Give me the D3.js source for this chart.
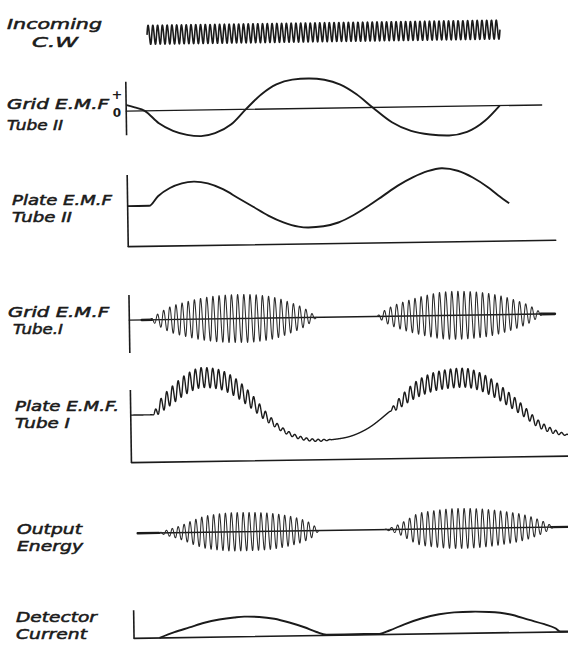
<!DOCTYPE html>
<html><head><meta charset="utf-8">
<script src="https://cdn.jsdelivr.net/npm/d3@7"></script>
<style>html,body{margin:0;padding:0;background:#fff;} svg{display:block;}</style>
</head><body>
<svg id="chart" width="568" height="647"></svg>
<script>
// ================= DATA (time t in ms-like units, values in panel units) =================
const panelLabels = [["Incoming","C.W"],["Grid E.M.F","Tube II"],["Plate E.M.F","Tube II"],
                     ["Grid E.M.F","Tube.I"],["Plate E.M.F.","Tube I"],["Output","Energy"],["Detector","Current"]];
const gridIITicks = ["+","0"];

// Incoming continuous wave
const cwTime = [23.4, 376.4];
const cwAmplitude = 9.5;
const cwCycles = 74;

// Grid E.M.F. Tube II (relative, -1..1)
const gridIITime  = [2, 10, 20, 34, 48, 62, 76, 90, 106, 121, 137, 152, 168, 184, 200, 216, 232, 248, 267, 286, 305, 324, 342, 360, 375];
const gridIIValue = [0.2, 0.12, 0, -0.42, -0.68, -0.82, -0.87, -0.78, -0.5, 0, 0.5, 0.82, 0.97, 1.0, 0.95, 0.78, 0.45, 0, -0.5, -0.8, -0.93, -0.97, -0.86, -0.5, 0];

// Plate E.M.F. Tube II
const plateIITime  = [1, 23, 32, 44, 56, 68, 82, 97, 112, 127, 142, 157, 172, 182, 197, 212, 227, 242, 257, 272, 287, 302, 316, 332, 347, 362, 372, 383];
const plateIIValue = [40.5, 40.5, 50, 58, 62.5, 64, 62, 56, 47, 38, 29, 22, 17.5, 16.5, 17.5, 21, 28, 37, 47, 57, 65, 71, 73.7, 71, 64, 54, 46, 37.7];

// Grid E.M.F. Tube I : envelopes of the oscillation
const gridIEnv1Time = [22, 32, 42, 57, 72, 87, 102, 117, 132, 147, 162, 177, 189];
const gridIEnv1Amp  = [0, 7, 12.5, 17, 20.5, 22.7, 23.8, 24, 23, 20.5, 15.5, 9, 0];
const gridIEnv2Time = [249, 257, 267, 282, 297, 312, 327, 342, 357, 372, 387, 402, 415];
const gridIEnv2Amp  = [0, 6, 11, 16, 20, 23, 24, 23.5, 22, 19, 14.5, 8.5, 0];
const gridICycles = [27, 27];

// Plate E.M.F. Tube I : slow curve + ripple amplitude
const plateITime  = [1.5, 23, 32, 44, 58, 74, 90, 106, 122, 138, 154, 170, 190, 214, 238, 262, 286, 310, 334, 358, 378, 394, 408, 424, 439];
const plateIValue = [47.5, 47.5, 57, 67.5, 78, 84, 82, 74, 60, 43, 30, 22.5, 19.5, 21.5, 30.5, 48.5, 68, 77.5, 80, 72.5, 59, 46, 33.5, 25, 21];
const plateIRippleTime = [1.5, 23, 27, 40, 70, 100, 118, 132, 148, 170, 195, 205, 260, 264, 280, 300, 330, 360, 385, 405, 425, 439];
const plateIRippleAmp  = [0, 0, 4, 8.5, 10, 9.5, 8, 5.5, 2.5, 1.5, 0.8, 0, 0, 2.5, 7, 9, 9.5, 8.5, 6.5, 4, 2, 0.5];
const plateIPeriod = 5.8;

// Output energy envelopes
const outEnv1Time = [28, 37, 50, 62, 72, 87, 104, 122, 144, 162, 172, 182, 188];
const outEnv1Amp  = [0, 3, 7, 12, 15.5, 18, 19.2, 19, 17.5, 14, 11, 6, 0];
const outEnv2Time = [253, 262, 268, 277, 286, 302, 329, 352, 376, 392, 402, 414, 423];
const outEnv2Amp  = [0, 2.5, 5, 10, 15, 18, 20, 19, 16, 13, 10, 5, 0];
const outCycles = [27, 28];

// Detector current
const detTime  = [27, 42, 57, 72, 87, 102, 112, 127, 142, 157, 172, 184, 194, 212, 232, 247, 257, 272, 289, 307, 322, 339, 357, 377, 397, 412, 423, 428, 440];
const detValue = [0, 5.5, 10, 14.5, 17.5, 19.3, 20, 19.5, 17.5, 13.5, 8.5, 3.6, 0.8, 0.8, 0.8, 0.8, 4, 10, 15.5, 19.5, 21.2, 21.6, 21, 18.5, 12.5, 8, 3.8, 0.5, 0.5];

// ================= LAYOUT =================
const W = 568, H = 647, INK = "#1b1b1b", OSC = "#2a2a2a";
const svg = d3.select("#chart");
svg.append("rect").attr("width", W).attr("height", H).attr("fill", "#fff");
const g = svg.append("g").attr("transform", "rotate(-0.85,340,330)");

const x = d3.scaleLinear().domain([0, 440]).range([128, 568]);
const cwY     = d3.scaleLinear().domain([-10, 10]).range([42, 22]);
const gridIIY = d3.scaleLinear().domain([-1, 1]).range([138, 78]);
const plateIIY= d3.scaleLinear().domain([0, 80]).range([243.5, 163.5]);
const gridIY  = d3.scaleLinear().domain([-30, 30]).range([347, 287]);
const plateIY = d3.scaleLinear().domain([0, 100]).range([459.5, 359.5]);
const outY    = d3.scaleLinear().domain([-25, 25]).range([555.2, 505.2]);
const detY    = d3.scaleLinear().domain([0, 30]).range([635.2, 605.2]);

// smooth function sampler (monotone cubic through the read points)
function smoothFn(ts, vs, yS) {
  const pts = ts.map((t, i) => [x(t), yS(vs[i])]);
  const p = g.append("path").attr("d", d3.line().curve(d3.curveMonotoneX)(pts)).attr("fill", "none");
  const node = p.node(), L = node.getTotalLength();
  const xs = [], ys = []; let last = -Infinity;
  for (let s = 0; s <= L; s += 0.4) {
    const q = node.getPointAtLength(s);
    if (q.x > last + 1e-6) { xs.push(q.x); ys.push(q.y); last = q.x; }
  }
  p.remove();
  return d3.scaleLinear().domain(xs).range(ys).clamp(true);
}
function ampFn(ts, as, yS) {
  const f = smoothFn(ts, as, yS), y0 = yS(0);
  return px => Math.max(0, y0 - f(px));
}
function carrierPath(x0, x1, center, amp, cycles) {
  const pts = [], n = Math.ceil((x1 - x0) / 0.15);
  for (let i = 0; i <= n; i++) {
    const px = x0 + (x1 - x0) * i / n;
    const ph = 2 * Math.PI * cycles * (px - x0) / (x1 - x0);
    pts.push([px, center(px) - amp(px) * Math.sin(ph)]);
  }
  return d3.line()(pts);
}
function hLine(t0, t1, yS, v, w) {
  g.append("line").attr("x1", x(t0)).attr("x2", x(t1)).attr("y1", yS(v)).attr("y2", yS(v))
   .attr("stroke", INK).attr("stroke-width", w).attr("stroke-linecap", "round");
}
function vAxis(t, yS, v0, v1) {
  g.append("line").attr("x1", x(t)).attr("x2", x(t)).attr("y1", yS(v0)).attr("y2", yS(v1))
   .attr("stroke", INK).attr("stroke-width", 1.6);
}
function curve(ts, vs, yS, w) {
  g.append("path").attr("d", d3.line().x((d, i) => x(ts[i])).y((d, i) => yS(vs[i])).curve(d3.curveMonotoneX)(ts))
   .attr("fill", "none").attr("stroke", INK).attr("stroke-width", w).attr("stroke-linejoin", "round");
}
function wave(d, w, col) {
  g.append("path").attr("d", d).attr("fill", "none").attr("stroke", col || INK).attr("stroke-width", w).attr("stroke-linejoin", "round");
}

// ---- Incoming C.W
wave(carrierPath(x(cwTime[0]), x(cwTime[1]), () => cwY(0), () => cwY(0) - cwY(cwAmplitude), cwCycles), 1.6);

// ---- Grid EMF Tube II
vAxis(1.5, gridIIY, -0.8, 0.98);
hLine(1.5, 417, gridIIY, 0, 1.3);
curve(gridIITime, gridIIValue, gridIIY, 1.9);

// ---- Plate EMF Tube II
vAxis(1.5, plateIIY, 0, 71.6);
hLine(1.5, 429, plateIIY, 0, 1.6);
curve(plateIITime, plateIIValue, plateIIY, 1.9);

// ---- Grid EMF Tube I
vAxis(1.5, gridIY, -32.9, 25.1);
hLine(1.5, 427, gridIY, 0, 1.4);
hLine(14, 24, gridIY, 0, 2.6);
hLine(413, 427, gridIY, 0, 2.8);
[[gridIEnv1Time, gridIEnv1Amp], [gridIEnv2Time, gridIEnv2Amp]].forEach(([ts, as], k) => {
  const a = ampFn(ts, as, gridIY);
  wave(carrierPath(x(ts[0]), x(ts[ts.length - 1]), () => gridIY(0), a, gridICycles[k]), 1.05, OSC);
});

// ---- Plate EMF Tube I
vAxis(1.5, plateIY, 0, 72.6);
hLine(1.5, 440, plateIY, 0, 1.6);
{
  const slow = smoothFn(plateITime, plateIValue, plateIY);
  const rip = ampFn(plateIRippleTime, plateIRippleAmp, plateIY);
  const x0 = x(plateITime[0]), x1 = x(plateITime[plateITime.length - 1]);
  const per = x(plateIPeriod) - x(0);
  wave(carrierPath(x0, x1, slow, rip, (x1 - x0) / per), 1.4);
}

// ---- Output energy
hLine(6.7, 440, outY, 0, 1.4);
hLine(6.7, 28, outY, 0, 2.4);
hLine(420, 440, outY, 0, 2.4);
[[outEnv1Time, outEnv1Amp], [outEnv2Time, outEnv2Amp]].forEach(([ts, as], k) => {
  const a = ampFn(ts, as, outY);
  wave(carrierPath(x(ts[0]), x(ts[ts.length - 1]), () => outY(0), a, outCycles[k]), 1.05, OSC);
});

// ---- Detector current
vAxis(1.5, detY, 0, 28);
hLine(1.5, 440, detY, 0, 1.7);
curve(detTime, detValue, detY, 1.9);

// ---- Labels (hand-lettered style)
const labelPos = [[[7,28.5,95],[32,46.5,46]], [[7,109,102],[7,130,56]], [[12,205,100],[12,222,60]],
                  [[8,317,101],[13,334,50]], [[15,411,104],[15,428,55]], [[17,534,65],[17,551,66]], [[16,622,81],[16,639,71]]];
panelLabels.forEach((pair, i) => pair.forEach((txt, j) => {
  const [lx, ly, lw] = labelPos[i][j];
  svg.append("text").attr("x", lx).attr("y", ly).text(txt)
    .attr("font-family", "DejaVu Sans").attr("font-style", "italic").attr("font-size", 14.5)
    .attr("fill", INK).attr("stroke", INK).attr("stroke-width", 0.55)
    .attr("textLength", lw).attr("lengthAdjust", "spacingAndGlyphs");
}));
svg.append("text").attr("x", 117).attr("y", 99).attr("text-anchor", "middle").text(gridIITicks[0])
  .attr("font-family", "DejaVu Sans").attr("font-weight", "bold").attr("font-size", 13).attr("fill", INK);
svg.append("text").attr("x", 117).attr("y", 116.5).attr("text-anchor", "middle").text(gridIITicks[1])
  .attr("font-family", "DejaVu Sans").attr("font-weight", "bold").attr("font-size", 12).attr("fill", INK);
</script>
</body></html>
